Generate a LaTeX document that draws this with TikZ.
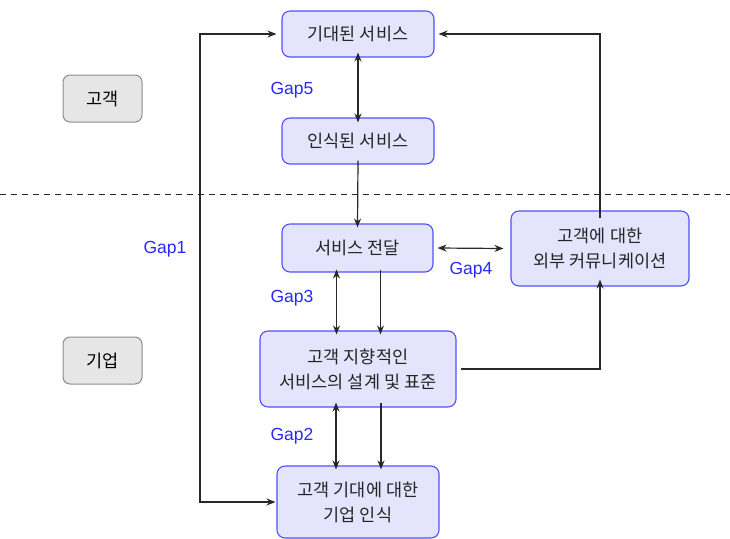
\documentclass[tikz,border=0pt]{standalone}
\usepackage{fontspec}
\setmainfont{Noto Sans CJK KR}
\newfontfamily\latinfont{Liberation Sans}
\usetikzlibrary{arrows.meta}
\definecolor{boxfill}{RGB}{228,228,252}
\definecolor{boxline}{RGB}{80,80,250}
\definecolor{grayfill}{RGB}{230,230,230}
\definecolor{grayline}{RGB}{140,140,140}
\definecolor{gapcol}{RGB}{40,40,250}
\definecolor{linecol}{RGB}{40,40,40}
\begin{document}
\begin{tikzpicture}[x=1pt,y=-1pt,
  bluebox/.style={draw=boxline,fill=boxfill,rounded corners=8pt,line width=1.1pt,
    font=\fontsize{17.5}{25}\selectfont,align=center,text=black!85,inner sep=0pt},
  graybox/.style={draw=grayline,fill=grayfill,rounded corners=7pt,line width=1pt,
    font=\fontsize{17.5}{25}\selectfont,inner sep=0pt},
  gaplabel/.style={font=\latinfont\fontsize{17.5}{20}\selectfont,text=gapcol,inner sep=0pt},
  conn/.style={draw=linecol,line width=1.2pt,-{Stealth[length=9pt,width=7pt]}},
  dconn/.style={draw=linecol,line width=1.2pt,{Stealth[length=9pt,width=7pt]}-{Stealth[length=9pt,width=7pt]}}]
\useasboundingbox (0,0) rectangle (730,538);
% boxes
\node[bluebox,minimum width=152pt,minimum height=46pt] (exp) at (358,34) {기대된 서비스};
\node[bluebox,minimum width=152pt,minimum height=46pt] (perc) at (358,141) {인식된 서비스};
\node[bluebox,minimum width=151pt,minimum height=48pt] (deliv) at (357.5,248) {서비스 전달};
\node[bluebox,minimum width=178pt,minimum height=75pt] (ext) at (600,248.5) {고객에 대한\\외부 커뮤니케이션};
\node[bluebox,minimum width=196pt,minimum height=76pt] (design) at (358,369) {고객 지향적인\\서비스의 설계 및 표준};
\node[bluebox,minimum width=162pt,minimum height=72pt] (mgmt) at (358,502) {고객 기대에 대한\\기업 인식};
\node[graybox,minimum width=79pt,minimum height=47pt] (cust) at (102.5,98.5) {고객};
\node[graybox,minimum width=79pt,minimum height=47pt] (firm) at (102.5,360.5) {기업};
% dashed separator
\coordinate (dl) at (0,194);
\coordinate (dr) at (730,194);
\draw[draw=linecol,line width=1pt,dash pattern=on 6pt off 5pt] (dl) -- (dr);
% labels
\node[gaplabel] (g5) at (292,90) {Gap5};
\node[gaplabel] (g1) at (165,249) {Gap1};
\node[gaplabel] (g4) at (471,270) {Gap4};
\node[gaplabel] (g3) at (292,298) {Gap3};
\node[gaplabel] (g2) at (292,436) {Gap2};
% connectors
\draw[dconn] ([yshift=5pt]exp.south) -- ([yshift=-5pt]perc.north);
\draw[conn] ([yshift=4pt]perc.south) -- ([yshift=-4pt]deliv.north);
\draw[dconn] ([xshift=4pt]deliv.east) -- ([xshift=-7pt]ext.west);
\draw[dconn] ([xshift=-21pt,yshift=3pt]deliv.south) -- ([xshift=-21pt,yshift=-4pt]deliv.south |- design.north);
\draw[conn] ([xshift=23pt,yshift=3pt]deliv.south) -- ([xshift=23pt,yshift=-4pt]deliv.south |- design.north);
\draw[dconn] ([xshift=-22pt,yshift=5pt]design.south) -- ([xshift=-22pt,yshift=-4pt]design.south |- mgmt.north);
\draw[conn] ([xshift=23pt,yshift=5pt]design.south) -- ([xshift=23pt,yshift=-4pt]design.south |- mgmt.north);
\draw[conn] ([xshift=4pt]design.east) -| ([yshift=7pt]ext.south);
\draw[conn] ([yshift=-8pt]ext.north) |- ([xshift=4pt]exp.east);
\draw[dconn] ([xshift=-1pt]mgmt.west) -| (200,300) |- ([xshift=-5pt]exp.west);
\end{tikzpicture}
\end{document}
